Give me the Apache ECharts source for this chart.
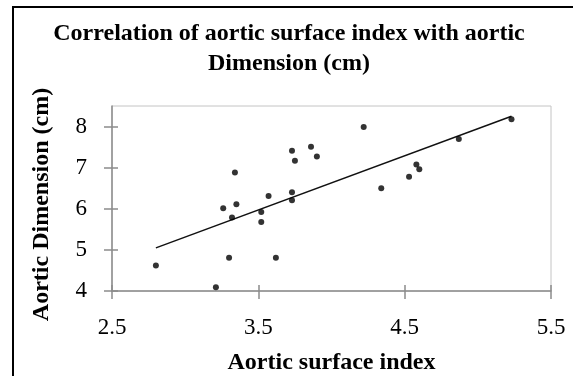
<!DOCTYPE html>
<html>
<head>
<meta charset="utf-8">
<script src="https://cdn.jsdelivr.net/npm/echarts@6/dist/echarts.min.js"></script>
<style>
  html, body { margin: 0; padding: 0; background: #fff; }
  #chart { width: 573px; height: 376px; }
</style>
</head>
<body>
<div id="chart"></div>
<script>
// aortic surface index (x) vs aortic dimension in cm (y)
const surfaceIndex = [2.80, 3.21, 3.26, 3.34, 3.35, 3.32, 3.30, 3.52, 3.52, 3.57, 3.62, 3.73,
  3.75, 3.73, 3.73, 3.86, 3.90, 4.22, 4.34, 4.53, 4.58, 4.60, 4.87, 5.23];
const dimension = [4.62, 4.09, 6.01, 6.88, 6.11, 5.79, 4.81, 5.92, 5.68, 6.31, 4.81, 7.41,
  7.17, 6.40, 6.21, 7.51, 7.27, 7.99, 6.50, 6.78, 7.08, 6.96, 7.70, 8.18];
// linear trend line end points
const trendX = [2.80, 5.23];
const trendY = [5.05, 8.25];
const xTicks = [2.5, 3.5, 4.5, 5.5];
const yTicks = [4, 5, 6, 7, 8];

const chart = echarts.init(document.getElementById('chart'));
const serif = '"Liberation Serif", "Times New Roman", serif';
const axisGrey = '#8c8c8c';

const option = {
  animation: false,
  title: {
    text: 'Correlation of aortic surface index with aortic\nDimension (cm)',
    left: 284,
    top: 14,
    textAlign: 'center',
    textStyle: {
      fontFamily: serif,
      fontWeight: 'bold',
      fontSize: 24,
      lineHeight: 30,
      color: '#000'
    }
  },
  graphic: [{
    type: 'rect',
    shape: { x: 13, y: 7, width: 620, height: 420 },
    style: { fill: 'none', stroke: '#000', lineWidth: 2 },
    silent: true
  }],
  grid: {
    left: 112,
    top: 106,
    right: 22,
    bottom: 83,
    show: true,
    borderColor: '#c4c4c4',
    borderWidth: 1
  },
  xAxis: [{
    type: 'value',
    min: 2.5,
    max: 5.5,
    interval: 1,
    name: 'Aortic surface index',
    nameLocation: 'middle',
    nameGap: 60,
    nameTextStyle: { fontFamily: serif, fontWeight: 'bold', fontSize: 24, color: '#000' },
    axisLine: { lineStyle: { color: axisGrey, width: 1.5 } },
    axisTick: { length: 8, lineStyle: { color: axisGrey, width: 1.5 } },
    axisLabel: {
      margin: 25,
      fontFamily: serif,
      fontSize: 23,
      color: '#000',
      customValues: xTicks,
      formatter: v => v.toFixed(1)
    },
    splitLine: { show: false }
  }, {
    // inner half of the cross ticks
    type: 'value',
    min: 2.5,
    max: 5.5,
    interval: 1,
    position: 'bottom',
    axisLine: { show: false },
    axisTick: { inside: true, length: 6, lineStyle: { color: axisGrey, width: 1.5 } },
    axisLabel: { show: false },
    splitLine: { show: false }
  }],
  yAxis: [{
    type: 'value',
    min: 4,
    max: 8.5,
    name: 'Aortic Dimension (cm)',
    nameLocation: 'middle',
    nameGap: 58,
    nameTextStyle: { fontFamily: serif, fontWeight: 'bold', fontSize: 24, color: '#000', padding: [0, 12, 0, 0] },
    axisLine: { show: true, lineStyle: { color: axisGrey, width: 1.5 } },
    axisTick: { show: true, length: 8, customValues: yTicks, lineStyle: { color: axisGrey, width: 1.5 } },
    axisLabel: {
      margin: 25,
      fontFamily: serif,
      fontSize: 23,
      color: '#000',
      customValues: yTicks
    },
    splitLine: { show: false }
  }, {
    type: 'value',
    min: 4,
    max: 8.5,
    position: 'left',
    axisLine: { show: false },
    axisTick: { show: true, inside: true, length: 6, customValues: yTicks, lineStyle: { color: axisGrey, width: 1.5 } },
    axisLabel: { show: false },
    splitLine: { show: false }
  }],
  series: [{
    type: 'line',
    data: trendX.map((x, i) => [x, trendY[i]]),
    symbol: 'none',
    lineStyle: { color: '#111', width: 1.5 },
    z: 2
  }, {
    type: 'scatter',
    data: surfaceIndex.map((x, i) => [x, dimension[i]]),
    symbol: 'circle',
    symbolSize: 6,
    itemStyle: { color: '#000' },
    z: 3
  }]
};

chart.setOption(option);
</script>
</body>
</html>
